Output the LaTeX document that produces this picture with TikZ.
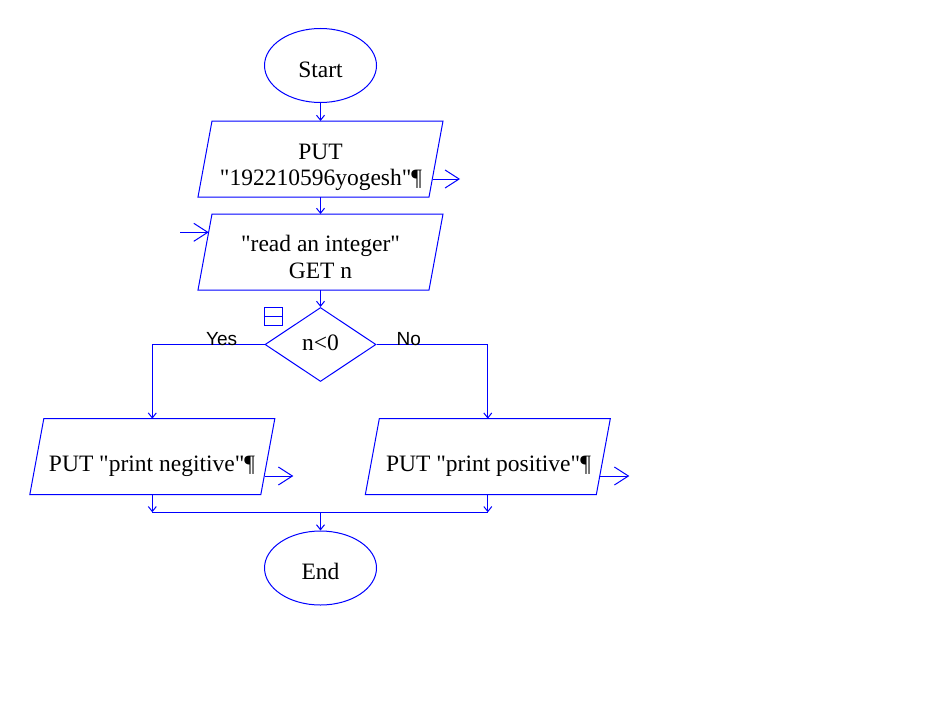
\documentclass[tikz,border=0pt]{standalone}
\usepackage{fontspec}
\setmainfont{Liberation Serif}
\newfontfamily\plainserif{Liberation Serif}
\newfontfamily\yesnofont{Liberation Sans}
\usetikzlibrary{arrows.meta,shapes.geometric}
\newcommand\drawpara[1]{\draw[blue,line width=1pt] ([xshift=14pt]#1.north west) -- (#1.north east) -- ([xshift=-14pt]#1.south east) -- (#1.south west) -- cycle;}
\begin{document}
\begin{tikzpicture}[x=1pt,y=-1pt,line width=1pt,
  flow/.style={draw=blue,-{Straight Barb[length=5pt,width=8pt]}},
  ioarrow/.style={draw=blue,-{Straight Barb[length=14pt,width=18pt]}},
  term/.style={draw=blue,ellipse,minimum width=112pt,minimum height=74pt,inner sep=0pt},
  frame/.style={inner sep=0pt,minimum width=244pt,minimum height=75pt},
  dec/.style={draw=blue,diamond,minimum width=111pt,minimum height=74pt,inner sep=0pt},
  txt/.style={anchor=base,inner sep=0pt,font=\plainserif\fontsize{23.5}{26}\selectfont},
  lbl/.style={anchor=base,inner sep=0pt,font=\yesnofont\fontsize{19}{22}\selectfont}
]
\useasboundingbox[fill=white] (0,0) rectangle (949,701);

% shapes
\node[term] (start) at (320.5,65.5) {};
\node[frame] (put) at (320.5,159) {};
\node[frame] (read) at (320.5,252) {};
\node[dec] (dec) at (320.5,344.5) {};
\node[frame] (lbox) at (152.3,456.7) {};
\node[frame] (rbox) at (487.8,456.7) {};
\node[term] (end) at (320.5,568) {};
\drawpara{put}
\drawpara{read}
\drawpara{lbox}
\drawpara{rbox}

% icon
\node[draw=blue,inner sep=0pt,minimum width=18.4pt,minimum height=17.7pt] (icon) at (273.5,316.2) {};
\draw[blue] (icon.west) -- (icon.east);

% flow connectors
\draw[flow] (start.south) -- (put.north);
\draw[flow] (put.south) -- (read.north);
\draw[flow] (read.south) -- (dec.north);
\draw[flow] (dec.west) -| (lbox.north);
\draw[flow] (dec.east) -| (rbox.north);
\coordinate (j) at (320.5,512.3);
\draw[flow] (lbox.south) -- (lbox.south |- j);
\draw[flow] (rbox.south) -- (rbox.south |- j);
\draw[blue] (lbox.south |- j) -- (rbox.south |- j);
\draw[flow] (j) -- (end.north);

% input / output arrows
\coordinate (o0) at (460,179);
\draw[ioarrow] ([xshift=-10pt]put.east |- o0) -- (o0);
\coordinate (i0) at (180,232.3);
\draw[ioarrow] (i0) -- ([xshift=10.7pt]read.west |- i0);
\coordinate (o1) at (293.3,476);
\draw[ioarrow] ([xshift=-10pt]lbox.east |- o1) -- (o1);
\coordinate (o2) at (629.3,476);
\draw[ioarrow] ([xshift=-10pt]rbox.east |- o2) -- (o2);

% texts
\node[txt] (tstart) at (320.5,77.3) {Start};
\node[txt] (tput1) at (320.5,159.3) {PUT};
\node[txt] (tput2) at (321,185) {"192210596yogesh"¶};
\node[txt] (tread1) at (320.5,251.7) {"read an integer"};
\node[txt] (tread2) at (320.5,278.3) {GET n};
\node[txt] (tcond) at (320.5,350) {n<0};
\node[txt] (tneg) at (152,471) {PUT "print negitive"¶};
\node[txt] (tpos) at (488.5,471) {PUT "print positive"¶};
\node[txt] (tend) at (320.5,579) {End};
\node[lbl] (yes) at (221.7,345) {Yes};
\node[lbl] (no) at (408.7,345) {No};
\end{tikzpicture}
\end{document}
